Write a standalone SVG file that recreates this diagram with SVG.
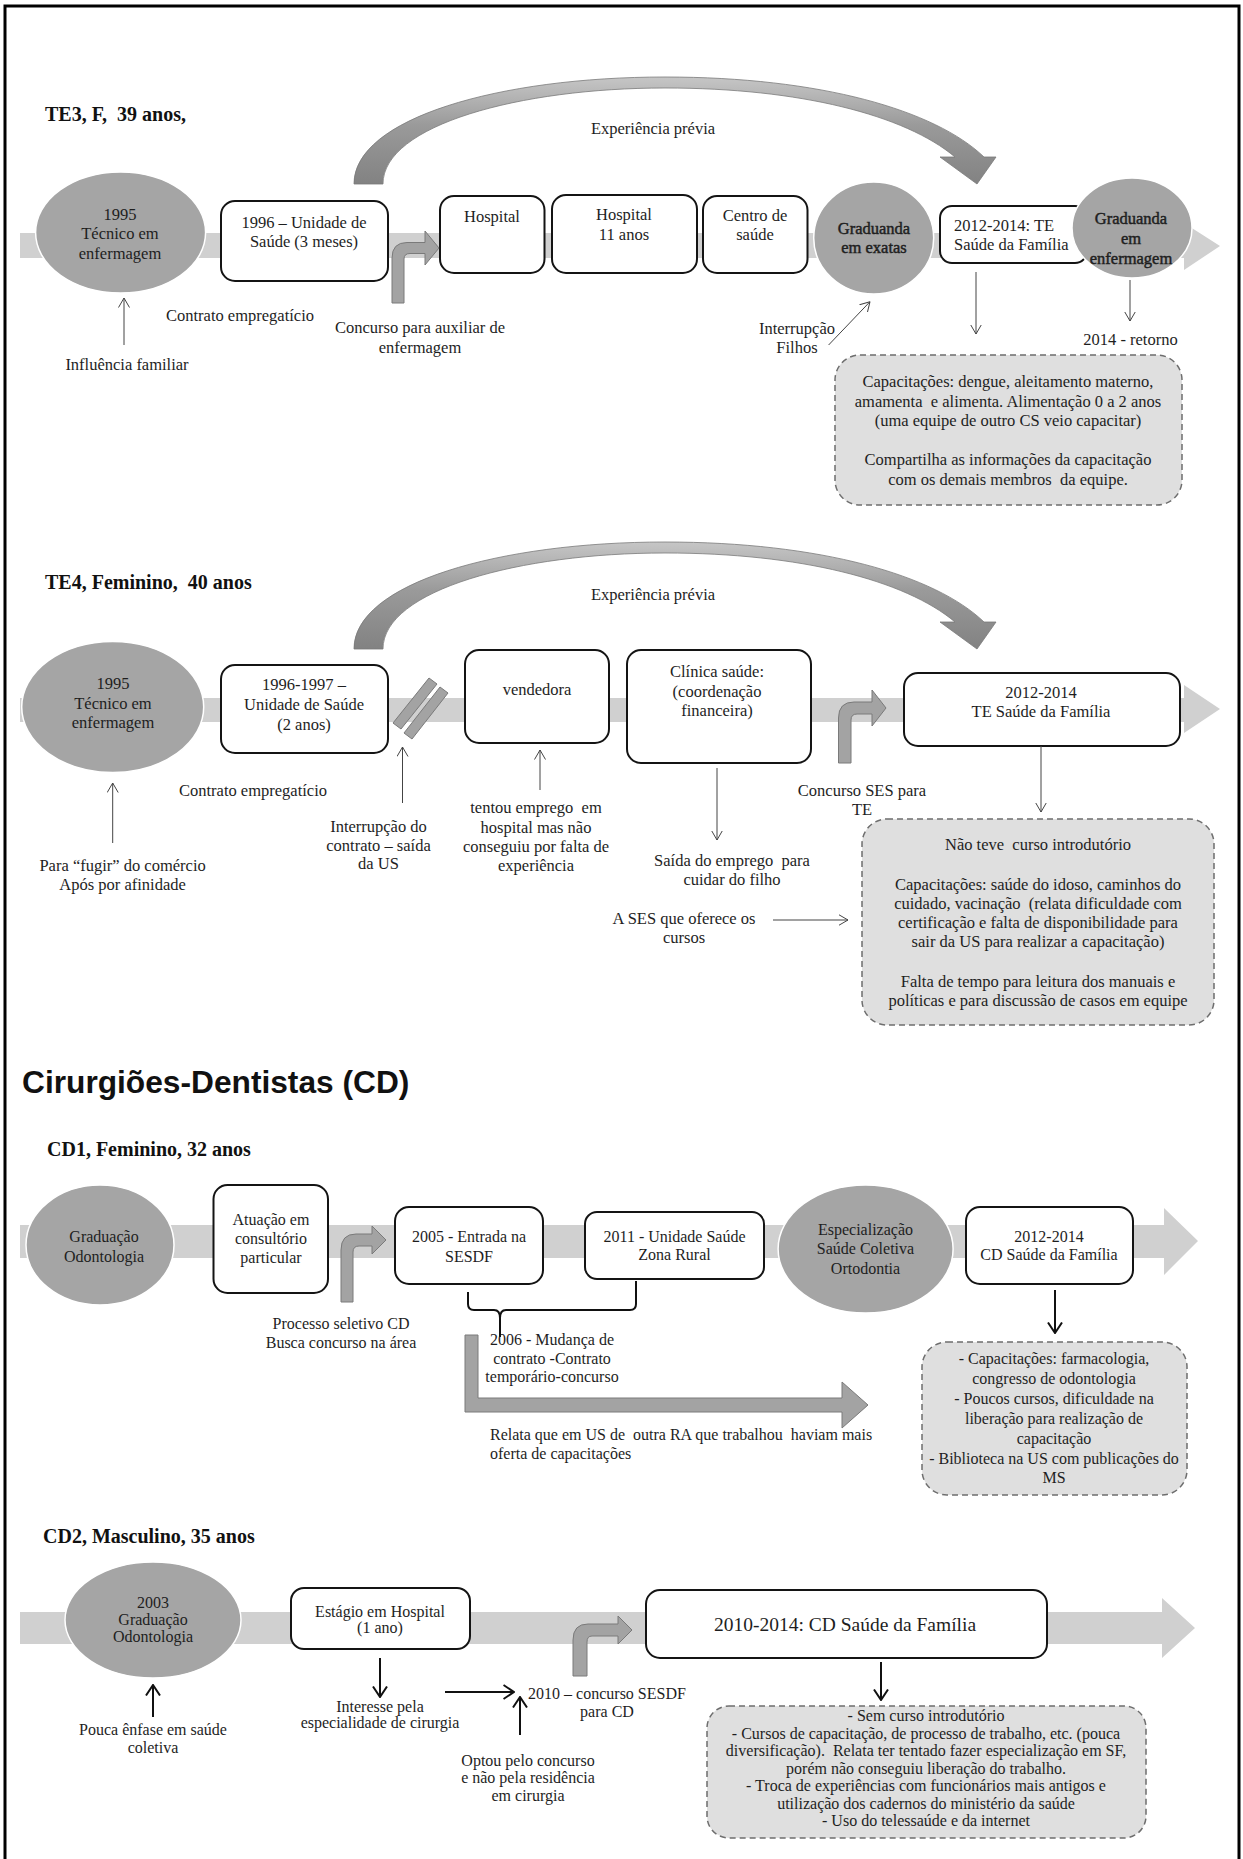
<svg xmlns="http://www.w3.org/2000/svg" width="1243" height="1859" viewBox="0 0 1243 1859">
<defs>
<style>
.t{font-family:"Liberation Serif","Times New Roman",serif;font-size:16.5px;fill:#1e1e1e;text-anchor:middle}
.s{font-size:16px}
.l{text-anchor:start}
.b{stroke:#1e1e1e;stroke-width:0.45}
.ttl{font-family:"Liberation Serif","Times New Roman",serif;font-weight:bold;font-size:20px;fill:#111}
.h{font-family:"Liberation Sans",Arial,sans-serif;font-weight:bold;font-size:31.7px;fill:#111}
.box{fill:#fff;stroke:#141414;stroke-width:2}
.ell{fill:#a5a5a5;stroke:#fff;stroke-width:1.5}
.band{fill:#d0d0d0}
.dash{fill:#dfdfdf;stroke:#6e6e6e;stroke-width:1.5;stroke-dasharray:6 4}
.bent{fill:#a3a3a3;stroke:#7a7a7a;stroke-width:1}
.arc{fill:url(#arcg);stroke:#7a7a7a;stroke-width:0.8}
.thin{stroke:#444;stroke-width:1;fill:none;marker-end:url(#open)}
.thick{stroke:#111;stroke-width:2;fill:none;marker-end:url(#openB)}
</style>
<linearGradient id="arcg" x1="0" y1="0" x2="0" y2="1">
<stop offset="0" stop-color="#c6c6c6"/>
<stop offset="0.45" stop-color="#9a9a9a"/>
<stop offset="1" stop-color="#828282"/>
</linearGradient>
<marker id="open" viewBox="0 0 10 12" refX="9.5" refY="6" markerWidth="10" markerHeight="12" markerUnits="userSpaceOnUse" orient="auto">
<path d="M0,0.5 L9.5,6 L0,11.5" fill="none" stroke="#444" stroke-width="1"/>
</marker>
<marker id="openB" viewBox="0 0 12 16" refX="11" refY="8" markerWidth="12" markerHeight="16" markerUnits="userSpaceOnUse" orient="auto">
<path d="M0.5,1 L11,8 L0.5,15" fill="none" stroke="#111" stroke-width="2"/>
</marker>
</defs>

<rect width="1243" height="1859" fill="#fff"/>
<path d="M5,1859 V6 H1239 V1859" fill="none" stroke="#000" stroke-width="3"/>

<!-- timeline bands -->
<g id="bands">
<path class="band" d="M20,233 H1184 V223 L1220,246 L1184,270 V258 H20 Z"/>
<path class="band" d="M20,698 H1184 V685 L1220,709 L1184,733 V722 H20 Z"/>
<path class="band" d="M20,1225 H1164 V1208 L1198,1241 L1164,1275 V1258 H20 Z"/>
<path class="band" d="M20,1612 H1162 V1598 L1195,1628 L1162,1658 V1644 H20 Z"/>
</g>

<!-- ===== TE3 ===== -->
<text class="ttl" x="45" y="121">TE3, F,&#160; 39 anos,</text>

<g id="te3_exp">
<path class="arc" d="M354,184 C354,118 500,77 665,77 C820,77 935,110 984,157 L996,157 L977,184 L940,157 L955,157 C905,115 800,88 665,88 C520,88 383,125 383,184 Z"/>
<text class="t" x="653" y="134">Experiência prévia</text>
</g>
<g id="te3_n1">
<ellipse class="ell" cx="120.6" cy="232.5" rx="85" ry="60.5"/>
<text class="t" x="120" y="219.5">1995</text>
<text class="t" x="120" y="239">Técnico em</text>
<text class="t" x="120" y="258.5">enfermagem</text>
</g>
<g id="te3_n2">
<rect class="box" x="221" y="201" width="167" height="80" rx="14"/>
<text class="t" x="304" y="228">1996 – Unidade de</text>
<text class="t" x="304" y="247">Saúde (3 meses)</text>
</g>
<g id="te3_n3">
<rect class="box" x="440" y="196" width="104.5" height="77" rx="14"/>
<text class="t" x="492" y="222">Hospital</text>
</g>
<g id="te3_n4">
<rect class="box" x="552" y="195" width="145" height="78" rx="14"/>
<text class="t" x="624" y="220">Hospital</text>
<text class="t" x="624" y="240">11 anos</text>
</g>
<g id="te3_n5">
<rect class="box" x="703" y="196" width="104.5" height="77" rx="14"/>
<text class="t" x="755" y="221">Centro de</text>
<text class="t" x="755" y="240">saúde</text>
</g>
<g id="te3_n6">
<ellipse class="ell" cx="873.7" cy="238" rx="60" ry="56"/>
<text class="t b" x="874" y="234">Graduanda</text>
<text class="t b" x="874" y="253">em exatas</text>
</g>
<g id="te3_n7">
<rect class="box" x="940" y="206" width="147" height="57" rx="12"/>
<text class="t l" x="954" y="231">2012-2014: TE</text>
<text class="t l" x="954" y="250">Saúde da Família</text>
</g>
<g id="te3_n8">
<ellipse class="ell" cx="1132" cy="228" rx="60" ry="50"/>
<text class="t b" x="1131" y="224">Graduanda</text>
<text class="t b" x="1131" y="244">em</text>
<text class="t b" x="1131" y="264">enfermagem</text>
</g>
<g id="te3_n9">
<rect class="dash" x="835" y="355" width="347" height="150" rx="25"/>
<text class="t" x="1008" y="387">Capacitações: dengue, aleitamento materno,</text>
<text class="t" x="1008" y="406.5">amamenta&#160; e alimenta. Alimentação 0 a 2 anos</text>
<text class="t" x="1008" y="426">(uma equipe de outro CS veio capacitar)</text>
<text class="t" x="1008" y="465">Compartilha as informações da capacitação</text>
<text class="t" x="1008" y="484.5">com os demais membros&#160; da equipe.</text>
</g>
<g id="te3_labels">
<text class="t" x="240" y="321">Contrato empregatício</text>
<text class="t" x="127" y="370">Influência familiar</text>
<text class="t" x="420" y="333">Concurso para auxiliar de</text>
<text class="t" x="420" y="353">enfermagem</text>
<text class="t" x="797" y="334">Interrupção</text>
<text class="t" x="797" y="353">Filhos</text>
<text class="t" x="1130.5" y="345">2014 - retorno</text>
</g>

<!-- ===== TE4 ===== -->
<text class="ttl" x="45" y="589">TE4, Feminino,&#160; 40 anos</text>

<g id="te4_exp">
<path class="arc" transform="translate(0,465)" d="M354,184 C354,118 500,77 665,77 C820,77 935,110 984,157 L996,157 L977,184 L940,157 L955,157 C905,115 800,88 665,88 C520,88 383,125 383,184 Z"/>
<text class="t" x="653" y="600">Experiência prévia</text>
</g>
<g id="te4_n1">
<ellipse class="ell" cx="112.7" cy="707" rx="91" ry="65.5"/>
<text class="t" x="113" y="689">1995</text>
<text class="t" x="113" y="709">Técnico em</text>
<text class="t" x="113" y="728">enfermagem</text>
</g>
<g id="te4_n2">
<rect class="box" x="221" y="665" width="167" height="88" rx="14"/>
<text class="t" x="304" y="690">1996-1997 –</text>
<text class="t" x="304" y="710">Unidade de Saúde</text>
<text class="t" x="304" y="730">(2 anos)</text>
</g>
<g id="te4_break">
<polygon class="bent" points="393,723 401,729 437,684 429,678"/>
<polygon class="bent" points="404,733 412,739 448,693 440,687"/>
</g>
<g id="te4_n3">
<rect class="box" x="465" y="650" width="144" height="93" rx="14"/>
<text class="t" x="537" y="695">vendedora</text>
</g>
<g id="te4_n4">
<rect class="box" x="627" y="650" width="184" height="113" rx="14"/>
<text class="t" x="717" y="677">Clínica saúde:</text>
<text class="t" x="717" y="697">(coordenação</text>
<text class="t" x="717" y="716">financeira)</text>
</g>
<g id="te4_n5">
<rect class="box" x="904" y="673" width="276" height="73" rx="14"/>
<text class="t" x="1041" y="698">2012-2014</text>
<text class="t" x="1041" y="717">TE Saúde da Família</text>
</g>
<g id="te4_n6">
<rect class="dash" x="862" y="819" width="352" height="206" rx="25"/>
<text class="t" x="1038" y="850">Não teve&#160; curso introdutório</text>
<text class="t" x="1038" y="890">Capacitações: saúde do idoso, caminhos do</text>
<text class="t" x="1038" y="909">cuidado, vacinação&#160; (relata dificuldade com</text>
<text class="t" x="1038" y="928">certificação e falta de disponibilidade para</text>
<text class="t" x="1038" y="947">sair da US para realizar a capacitação)</text>
<text class="t" x="1038" y="987">Falta de tempo para leitura dos manuais e</text>
<text class="t" x="1038" y="1006">políticas e para discussão de casos em equipe</text>
</g>
<g id="te4_labels">
<text class="t" x="253" y="796">Contrato empregatício</text>
<text class="t" x="122.6" y="871">Para “fugir” do comércio</text>
<text class="t" x="122.6" y="890">Após por afinidade</text>
<text class="t" x="378.5" y="832">Interrupção do</text>
<text class="t" x="378.5" y="851">contrato – saída</text>
<text class="t" x="378.5" y="869">da US</text>
<text class="t" x="536" y="813">tentou emprego&#160; em</text>
<text class="t" x="536" y="833">hospital mas não</text>
<text class="t" x="536" y="852">conseguiu por falta de</text>
<text class="t" x="536" y="871">experiência</text>
<text class="t" x="732" y="866">Saída do emprego&#160; para</text>
<text class="t" x="732" y="885">cuidar do filho</text>
<text class="t" x="862" y="796">Concurso SES para</text>
<text class="t" x="862" y="815">TE</text>
<text class="t" x="684" y="924">A SES que oferece os</text>
<text class="t" x="684" y="943">cursos</text>
</g>

<!-- ===== CD heading ===== -->
<text class="h" x="22" y="1093">Cirurgiões-Dentistas (CD)</text>

<!-- ===== CD1 ===== -->
<text class="ttl" x="47" y="1156">CD1, Feminino, 32 anos</text>
<g id="cd1_n1">
<ellipse class="ell" cx="100" cy="1245" rx="74" ry="60"/>
<text class="t s" x="104" y="1242">Graduação</text>
<text class="t s" x="104" y="1262">Odontologia</text>
</g>
<g id="cd1_n2">
<rect class="box" x="213.5" y="1185" width="114.5" height="108" rx="14"/>
<text class="t s" x="271" y="1225">Atuação em</text>
<text class="t s" x="271" y="1244">consultório</text>
<text class="t s" x="271" y="1263">particular</text>
</g>
<g id="cd1_n3">
<rect class="box" x="395" y="1207" width="148" height="77" rx="14"/>
<text class="t s" x="469" y="1242">2005 - Entrada na</text>
<text class="t s" x="469" y="1262">SESDF</text>
</g>
<g id="cd1_n4">
<rect class="box" x="585" y="1212" width="179" height="67" rx="12"/>
<text class="t s" x="674.5" y="1242">2011 - Unidade Saúde</text>
<text class="t s" x="674.5" y="1260">Zona Rural</text>
</g>
<g id="cd1_n5">
<ellipse class="ell" cx="865.6" cy="1249" rx="87.5" ry="64"/>
<text class="t s" x="865.5" y="1235">Especialização</text>
<text class="t s" x="865.5" y="1254">Saúde Coletiva</text>
<text class="t s" x="865.5" y="1274">Ortodontia</text>
</g>
<g id="cd1_n6">
<rect class="box" x="966" y="1207" width="167" height="77" rx="14"/>
<text class="t s" x="1049" y="1242">2012-2014</text>
<text class="t s" x="1049" y="1260">CD Saúde da Família</text>
</g>
<g id="cd1_n7">
<rect class="dash" x="922" y="1342" width="265" height="153" rx="25"/>
<text class="t s" x="1054" y="1364">- Capacitações: farmacologia,</text>
<text class="t s" x="1054" y="1384">congresso de odontologia</text>
<text class="t s" x="1054" y="1404">- Poucos cursos, dificuldade na</text>
<text class="t s" x="1054" y="1424">liberação para realização de</text>
<text class="t s" x="1054" y="1444">capacitação</text>
<text class="t s" x="1054" y="1464">- Biblioteca na US com publicações do</text>
<text class="t s" x="1054" y="1483">MS</text>
</g>
<g id="cd1_labels">
<text class="t s" x="341" y="1329">Processo seletivo CD</text>
<text class="t s" x="341" y="1348">Busca concurso na área</text>
<text class="t s" x="552" y="1345">2006 - Mudança de</text>
<text class="t s" x="552" y="1364">contrato -Contrato</text>
<text class="t s" x="552" y="1382">temporário-concurso</text>
<text class="t s l" x="490" y="1440">Relata que em US de&#160; outra RA que trabalhou&#160; haviam mais</text>
<text class="t s l" x="490" y="1459">oferta de capacitações</text>
</g>

<!-- ===== CD2 ===== -->
<text class="ttl" x="43" y="1543">CD2, Masculino, 35 anos</text>
<g id="cd2_n1">
<ellipse class="ell" cx="153" cy="1620" rx="88" ry="58"/>
<text class="t s" x="153" y="1608">2003</text>
<text class="t s" x="153" y="1625">Graduação</text>
<text class="t s" x="153" y="1642">Odontologia</text>
</g>
<g id="cd2_n2">
<rect class="box" x="291" y="1588" width="179" height="61" rx="13"/>
<text class="t s" x="380" y="1617">Estágio em Hospital</text>
<text class="t s" x="380" y="1633">(1 ano)</text>
</g>
<g id="cd2_n3">
<rect class="box" x="646" y="1590" width="401" height="68" rx="14"/>
<text class="t" style="font-size:19.5px" x="845" y="1631">2010-2014: CD Saúde da Família</text>
</g>
<g id="cd2_n4">
<rect class="dash" x="707" y="1706" width="439" height="132" rx="22"/>
<text class="t s" x="926" y="1721">- Sem curso introdutório</text>
<text class="t s" x="926" y="1738.5">- Cursos de capacitação, de processo de trabalho, etc. (pouca</text>
<text class="t s" x="926" y="1756">diversificação).&#160; Relata ter tentado fazer especialização em SF,</text>
<text class="t s" x="926" y="1773.5">porém não conseguiu liberação do trabalho.</text>
<text class="t s" x="926" y="1791">- Troca de experiências com funcionários mais antigos e</text>
<text class="t s" x="926" y="1808.5">utilização dos cadernos do ministério da saúde</text>
<text class="t s" x="926" y="1826">- Uso do telessaúde e da internet</text>
</g>
<g id="cd2_labels">
<text class="t s" x="153" y="1735">Pouca ênfase em saúde</text>
<text class="t s" x="153" y="1753">coletiva</text>
<text class="t s" x="380" y="1712">Interesse pela</text>
<text class="t s" x="380" y="1728">especialidade de cirurgia</text>
<text class="t s" x="607" y="1699">2010 – concurso SESDF</text>
<text class="t s" x="607" y="1717">para CD</text>
<text class="t s" x="528" y="1766">Optou pelo concurso</text>
<text class="t s" x="528" y="1783">e não pela residência</text>
<text class="t s" x="528" y="1801">em cirurgia</text>
</g>

<!-- ===== connectors ===== -->
<g id="connectors">
<path class="bent" d="M392,303 V258 Q392,242.5 407,242.5 H425 V231 L439,248 L425,265 V253.5 H410 Q404,253.5 404,259 V303 Z"/>
<path class="bent" d="M838.5,763 V718 Q838.5,702 854,702 H872 V690 L886,708 L872,726 V714 H857 Q851,714 851,720 V763 Z"/>
<path class="bent" d="M341,1302 V1250 Q341,1234 356,1234 H372 V1226 L386,1240 L372,1254 V1246 H359 Q353,1246 353,1252 V1302 Z"/>
<path class="bent" d="M573,1676 V1640 Q573,1624 588,1624 H618 V1616 L632,1630 L618,1644 V1636 H592 Q587,1636 587,1642 V1676 Z"/>
<path class="bent" d="M465,1335 H478 V1398 H842 V1382 L868,1405 L842,1428 V1412 H465 Z"/>
<path d="M468,1292 V1304 Q468,1310 474,1310 H494 Q500,1310 500,1318 V1337 M500,1318 Q500,1310 506,1310 H630 Q636,1310 636,1304 V1281" fill="none" stroke="#111" stroke-width="2"/>
<line class="thin" x1="124" y1="345" x2="124" y2="298"/>
<line class="thin" x1="828.6" y1="345" x2="870" y2="301.7"/>
<line class="thin" x1="976" y1="272" x2="976" y2="334"/>
<line class="thin" x1="1130" y1="280" x2="1130" y2="321"/>
<line class="thin" x1="112.7" y1="843" x2="112.7" y2="783"/>
<line class="thin" x1="402.5" y1="803" x2="402.5" y2="747"/>
<line class="thin" x1="540" y1="790" x2="540" y2="750"/>
<line class="thin" x1="717" y1="768" x2="717" y2="840"/>
<line class="thin" x1="1041" y1="746" x2="1041" y2="812"/>
<line class="thin" x1="773" y1="920" x2="848" y2="920"/>
<line class="thick" x1="1055" y1="1290" x2="1055" y2="1333"/>
<line class="thick" x1="153" y1="1717" x2="153" y2="1685"/>
<line class="thick" x1="380" y1="1658" x2="380" y2="1697"/>
<line class="thick" x1="445" y1="1692" x2="514" y2="1692"/>
<line class="thick" x1="520" y1="1735" x2="520" y2="1697"/>
<line class="thick" x1="881" y1="1662" x2="881" y2="1700"/>
</g>
</svg>
